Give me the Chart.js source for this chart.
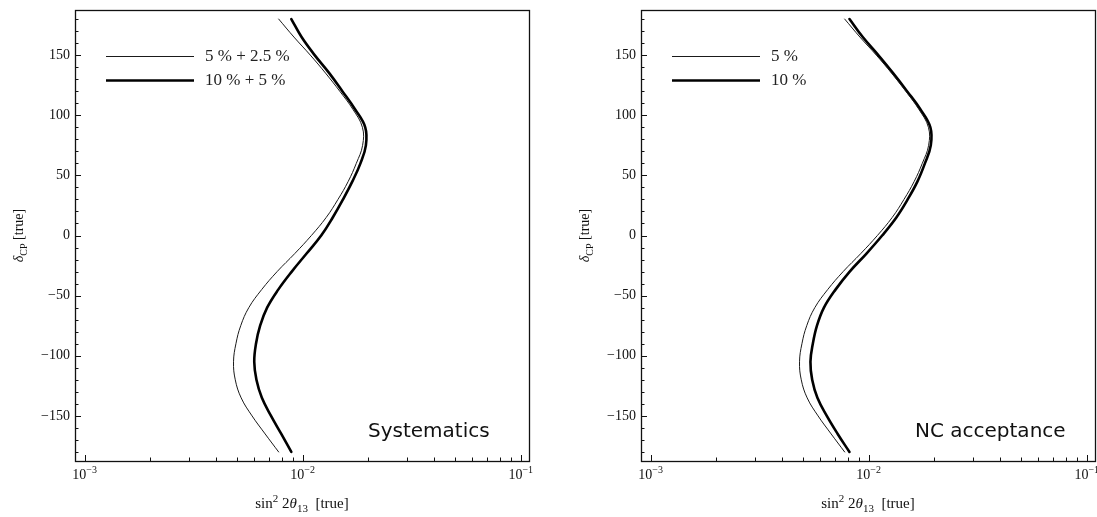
<!DOCTYPE html>
<html>
<head>
<meta charset="utf-8">
<script src="https://cdn.jsdelivr.net/npm/chart.js@4.4.1/dist/chart.umd.min.js"></script>
<style>
  html, body { margin: 0; padding: 0; background: #fff; }
  #wrap { position: relative; width: 1097px; height: 517px; overflow: hidden; }
  .panel { position: absolute; top: 0; height: 517px; }
  #p1 { left: 0; width: 548px; }
  #p2 { left: 548px; width: 549px; }
</style>
</head>
<body>
<div id="wrap">
  <div class="panel" id="p1"><canvas id="c1" width="548" height="517"></canvas></div>
  <div class="panel" id="p2"><canvas id="c2" width="549" height="517"></canvas></div>
</div>
<script>
// true CP phase (degrees) at which each curve is sampled
const deltaTrue = [-180, -165, -150, -135, -120, -105, -90, -75, -60, -45, -30, -15, 0,
                   15, 30, 45, 60, 75, 90, 105, 120, 135, 150, 165, 180];

// sin^2 2theta13 reach, systematics panel
const sysLow = [0.007762, 0.006730, 0.005861, 0.005224, 0.004909, 0.004819, 0.004943, 0.005200, 0.005662,
                0.006486, 0.007638, 0.009204, 0.010965, 0.012823, 0.014521, 0.016181, 0.017620, 0.018836,
                0.018793, 0.016982, 0.014791, 0.012735, 0.010839, 0.009120, 0.007762]; // 5 % + 2.5 %
const sysHigh = [0.008872, 0.007980, 0.007161, 0.006501, 0.006138, 0.005998, 0.006109, 0.006383, 0.006871,
                 0.007727, 0.008913, 0.010423, 0.012162, 0.013740, 0.015311, 0.016904, 0.018408, 0.019498,
                 0.019364, 0.017378, 0.015205, 0.013243, 0.011350, 0.009886, 0.008872]; // 10 % + 5 %

// sin^2 2theta13 reach, NC acceptance panel
const ncLow = [0.007762, 0.006730, 0.005861, 0.005224, 0.004909, 0.004819, 0.004943, 0.005200, 0.005662,
               0.006486, 0.007638, 0.009204, 0.010965, 0.012823, 0.014521, 0.016181, 0.017620, 0.018836,
               0.018793, 0.016982, 0.014791, 0.012735, 0.010839, 0.009120, 0.007762]; // 5 %
const ncHigh = [0.008166, 0.007211, 0.006427, 0.005821, 0.005508, 0.005408, 0.005546, 0.005794, 0.006237,
                0.007047, 0.008185, 0.009772, 0.011535, 0.013397, 0.015101, 0.016749, 0.018113, 0.019275,
                0.019187, 0.017258, 0.014997, 0.012942, 0.011066, 0.009397, 0.008166]; // 10 %

const sysLabels = ['5 % + 2.5 %', '10 % + 5 %'];
const ncLabels  = ['5 %', '10 %'];
const panelTitles = ['Systematics', 'NC acceptance'];

const yTicks = [-150, -100, -50, 0, 50, 100, 150];
const xTicks = [0.001, 0.01, 0.1];
const xTickExp = ['\u22123', '\u22122', '\u22121'];

const SERIF = '"Liberation Serif", "DejaVu Serif", serif';
const SANS = '"DejaVu Sans", sans-serif';

// draw a run of text pieces (font, vertical shift) starting at x
function richWidth(ctx, parts) {
  let w = 0;
  for (const p of parts) { ctx.font = p.font; w += ctx.measureText(p.t).width; }
  return w;
}
function drawRich(ctx, parts, x, y) {
  let cx = x;
  for (const p of parts) {
    ctx.font = p.font;
    ctx.fillText(p.t, cx, y + (p.dy || 0));
    cx += ctx.measureText(p.t).width;
  }
}

const framePlugin = {
  id: 'frameAxes',
  afterDraw(chart, args, opts) {
    const ctx = chart.ctx;
    const a = chart.chartArea;
    const xs = chart.scales.x, ys = chart.scales.y;
    ctx.save();
    ctx.strokeStyle = '#111';
    ctx.fillStyle = '#111';
    ctx.lineWidth = 1.3;
    ctx.strokeRect(Math.round(a.left) + 0.5, Math.round(a.top) + 0.5, Math.round(a.right - a.left), Math.round(a.bottom - a.top));

    // left axis ticks, pointing inward
    ctx.lineWidth = 1;
    for (let v = -180; v <= 180; v += 10) {
      const py = Math.round(ys.getPixelForValue(v)) + 0.5;
      const major = v % 50 === 0;
      ctx.beginPath();
      ctx.moveTo(a.left, py);
      ctx.lineTo(a.left + (major ? 6 : 3.5), py);
      ctx.stroke();
    }
    // bottom axis ticks (log decades and their sub-steps)
    for (let e = -3; e <= -1; e++) {
      for (let m = 1; m <= 9; m++) {
        const v = m * Math.pow(10, e);
        if (v < xs.min || v > xs.max) continue;
        const px = Math.round(xs.getPixelForValue(v)) + 0.5;
        ctx.beginPath();
        ctx.moveTo(px, a.bottom);
        ctx.lineTo(px, a.bottom - (m === 1 ? 6 : 3.5));
        ctx.stroke();
      }
    }

    // y tick labels
    ctx.textAlign = 'right';
    ctx.textBaseline = 'middle';
    ctx.font = '14px ' + SERIF;
    for (const v of yTicks) {
      const s = v < 0 ? '\u2212' + Math.abs(v) : String(v);
      ctx.fillText(s, a.left - 5, ys.getPixelForValue(v));
    }
    // x tick labels with exponents
    ctx.textAlign = 'left';
    ctx.textBaseline = 'alphabetic';
    xTicks.forEach((v, i) => {
      const parts = [
        { t: '10', font: '14px ' + SERIF },
        { t: xTickExp[i], font: '10px ' + SERIF, dy: -6 }
      ];
      const w = richWidth(ctx, parts);
      drawRich(ctx, parts, xs.getPixelForValue(v) - w / 2, a.bottom + 18);
    });

    // x axis title
    const xt = [
      { t: 'sin', font: '15px ' + SERIF },
      { t: '2', font: '11px ' + SERIF, dy: -6 },
      { t: ' 2', font: '15px ' + SERIF },
      { t: '\u03b8', font: 'italic 15px ' + SERIF },
      { t: '13', font: '11px ' + SERIF, dy: 4 },
      { t: '  [true]', font: '15px ' + SERIF }
    ];
    const xw = richWidth(ctx, xt);
    drawRich(ctx, xt, (a.left + a.right) / 2 - xw / 2, a.bottom + 47);

    // y axis title, rotated
    const yt = [
      { t: '\u03b4', font: 'italic 14px ' + SERIF },
      { t: 'CP', font: '10px ' + SERIF, dy: 4 },
      { t: ' [true]', font: '14px ' + SERIF }
    ];
    const yw = richWidth(ctx, yt);
    ctx.save();
    ctx.translate(a.left - 52, (a.top + a.bottom) / 2);
    ctx.rotate(-Math.PI / 2);
    drawRich(ctx, yt, -yw / 2, 0);
    ctx.restore();

    // legend from the datasets
    const ds = chart.data.datasets;
    ds.forEach((d, i) => {
      const ly = Math.round(a.top + 46 + i * 24) + 0.5;
      ctx.beginPath();
      ctx.lineWidth = d.borderWidth;
      ctx.strokeStyle = d.borderColor;
      ctx.moveTo(a.left + 31, ly);
      ctx.lineTo(a.left + 119, ly);
      ctx.stroke();
      ctx.font = '17px ' + SERIF;
      ctx.textBaseline = 'middle';
      ctx.fillStyle = '#222';
      ctx.fillText(d.label, a.left + 130, ly);
    });

    // panel title
    ctx.font = '20px ' + SANS;
    ctx.textBaseline = 'alphabetic';
    ctx.fillStyle = '#111';
    ctx.fillText(opts.title, a.left + opts.titleX, a.bottom - 24);
    ctx.restore();
  }
};

function makePanel(id, low, high, labels, title, titleX, pad) {
  const pts = arr => deltaTrue.map((d, i) => ({ x: arr[i], y: d }));
  const line = { pointRadius: 0, tension: 0.4, fill: false, borderJoinStyle: 'round', borderCapStyle: 'round' };
  return new Chart(document.getElementById(id), {
    type: 'line',
    data: {
      datasets: [
        Object.assign({ label: labels[0], data: pts(low), borderColor: '#1a1a1a', borderWidth: 1 }, line),
        Object.assign({ label: labels[1], data: pts(high), borderColor: '#000', borderWidth: 2.6 }, line)
      ]
    },
    options: {
      indexAxis: 'y',
      responsive: false,
      animation: false,
      devicePixelRatio: 1,
      layout: { padding: pad },
      scales: {
        x: { type: 'logarithmic', min: Math.pow(10, -3.044), max: Math.pow(10, -0.962), display: false },
        y: { type: 'linear', min: -187.5, max: 187.5, display: false }
      },
      plugins: {
        legend: { display: false },
        tooltip: { enabled: false },
        frameAxes: { title: title, titleX: titleX }
      }
    },
    plugins: [framePlugin]
  });
}

makePanel('c1', sysLow, sysHigh, sysLabels, panelTitles[0], 293, { left: 75, right: 19, top: 10, bottom: 56 });
makePanel('c2', ncLow, ncHigh, ncLabels, panelTitles[1], 274, { left: 93, right: 2, top: 10, bottom: 56 });
</script>
</body>
</html>
